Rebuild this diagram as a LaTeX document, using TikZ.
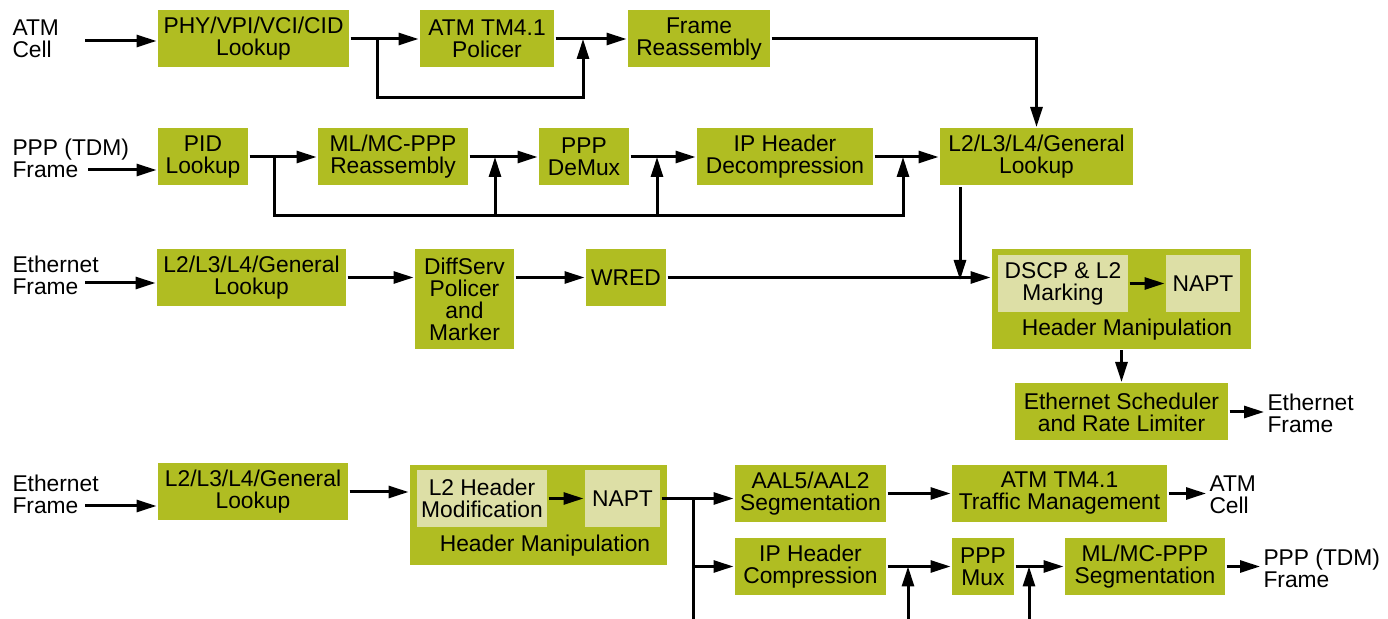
\documentclass[tikz,border=0pt]{standalone}
\usepackage{fontspec}
\setmainfont{Liberation Sans}
\usetikzlibrary{arrows.meta}
\definecolor{boxgreen}{RGB}{176,189,34}
\definecolor{boxlight}{RGB}{221,223,166}

\begin{document}
\begin{tikzpicture}[x=0.5pt,y=-0.5pt,line width=1.5pt,
  every node/.style={font=\fontsize{11.4}{11}\selectfont},
  blk/.style={fill=boxgreen,inner sep=0pt,align=center,minimum height=28.5pt},
  sub/.style={fill=boxlight,inner sep=0pt,align=center,minimum height=28.5pt},
  grp/.style={fill=boxgreen,inner sep=0pt,minimum height=50pt},
  lbl/.style={inner sep=1pt,align=left,anchor=west},
  arr/.style={-{Triangle[length=10pt,width=6pt]}}]
\useasboundingbox (0,0) rectangle (1388,619);

\node[lbl] (atmin) at (9,39) {ATM\\Cell};
\node[blk,minimum width=95.5pt] (phy) at (253.5,39) {PHY/VPI/VCI/CID\\Lookup};
\node[blk,minimum width=67pt] (pol) at (487,39) {ATM TM4.1\\Policer};
\node[blk,minimum width=71pt] (frm) at (699,39) {Frame\\Reassembly};
\coordinate (atma) at (85,41);
\coordinate (byp1) at (377,98);
\coordinate (byp2) at (583,98);
\draw[arr] (atma) -- (atma -| phy.west);
\draw[arr] (phy) -- (pol);
\draw[arr] (pol) -- (frm);
\draw[arr] (phy.east -| byp1) -- (byp1) -- (byp2) -- (byp2 |- pol.east);

\node[lbl] (pppin) at (9,158) {PPP (TDM)\\Frame};
\node[blk,minimum width=45pt] (pid) at (203,157) {PID\\Lookup};
\node[blk,minimum width=75pt] (mlr) at (393,157) {ML/MC-PPP\\Reassembly};
\node[blk,minimum width=45pt] (dmx) at (584,157) {PPP\\DeMux};
\node[blk,minimum width=88pt] (ipd) at (785,157) {IP Header\\Decompression};
\node[blk,minimum width=96.5pt] (lku) at (1036.5,157) {L2/L3/L4/General\\Lookup};
\coordinate (pppa) at (88,170);
\coordinate (byp3) at (274,216);
\coordinate (byp4) at (903,216);
\coordinate (tap1) at (495,216);
\coordinate (tap2) at (657,216);
\draw[arr] (pppa) -- (pppa -| pid.west);
\draw[arr] (pid) -- (mlr);
\draw[arr] (mlr) -- (dmx);
\draw[arr] (dmx) -- (ipd);
\draw[arr] (ipd) -- (lku);
\draw[arr] (pid.east -| byp3) -- (byp3) -- (byp4) -- (byp4 |- ipd.east);
\draw[arr] (tap1) -- (tap1 |- mlr.east);
\draw[arr] (tap2) -- (tap2 |- dmx.east);
\draw[arr] (frm) -| (lku);

\node[lbl] (ethin1) at (9,275) {Ethernet\\Frame};
\node[blk,minimum width=94.5pt] (el3) at (251.5,277.5) {L2/L3/L4/General\\Lookup};
\node[blk,minimum width=49.5pt,minimum height=50pt] (dsv) at (464.5,299) {DiffServ\\Policer\\and\\Marker};
\node[blk,minimum width=40pt] (wrd) at (626,277.5) {WRED};
\node[grp,minimum width=129.5pt] (hm1) at (1121.5,299) {};
\node[sub,minimum width=65pt] (dscp) at (1063,283.5) {DSCP \& L2\\Marking};
\node[sub,minimum width=37pt] (napt1) at (1203,283.5) {NAPT};
\node (hml1) at (1127,330) {Header Manipulation};
\node[blk,minimum width=106.5pt] (esch) at (1121.5,412) {Ethernet Scheduler\\and Rate Limiter};
\node[lbl] (ethout) at (1264,413.5) {Ethernet\\Frame};
\coordinate (etha1) at (85,283);
\coordinate (mrg) at (960,280);
\draw[arr] (etha1) -- (etha1 -| el3.west);
\draw[arr] (el3.east) -- (el3.east -| dsv.west);
\draw[arr] (wrd.west -| dsv.east) -- (wrd.west);
\draw[arr] (wrd.east) -- (wrd.east -| hm1.west);
\draw[arr] (lku.south -| mrg) -- (mrg);
\draw[arr] (dscp) -- (napt1);
\draw[arr] (hm1) -- (esch);
\draw[arr] (esch.east) -- (esch.east -| ethout.west);

\node[lbl] (ethin2) at (9,494) {Ethernet\\Frame};
\node[blk,minimum width=95pt] (el4) at (253,492) {L2/L3/L4/General\\Lookup};
\node[grp,minimum width=128.5pt] (hm2) at (538.5,515) {};
\node[sub,minimum width=65pt] (l2m) at (482,498.5) {L2 Header\\Modification};
\node[sub,minimum width=37.5pt] (napt2) at (622.5,498.5) {NAPT};
\node (hml2) at (545,546) {Header Manipulation};
\node[blk,minimum width=75.5pt] (aal) at (810.5,493.5) {AAL5/AAL2\\Segmentation};
\node[blk,minimum width=107.5pt] (atmtm) at (1059.5,493.5) {ATM TM4.1\\Traffic Management};
\node[lbl] (atmout) at (1206,494.5) {ATM\\Cell};
\node[blk,minimum width=75.5pt] (iphc) at (810.5,566.5) {IP Header\\Compression};
\node[blk,minimum width=31pt] (pmux) at (983,566.5) {PPP\\Mux};
\node[blk,minimum width=80pt] (mlseg) at (1145,566.5) {ML/MC-PPP\\Segmentation};
\node[lbl] (pppout) at (1260,568.5) {PPP (TDM)\\Frame};
\coordinate (etha2) at (85,506);
\coordinate (spl) at (693,619);
\coordinate (up1) at (908,619);
\coordinate (up2) at (1029,619);
\draw[arr] (etha2) -- (etha2 -| el4.west);
\draw[arr] (el4.east) -- (el4.east -| hm2.west);
\draw[arr] (l2m) -- (napt2);
\draw[arr] (napt2.east) -- (napt2.east -| aal.west);
\draw (napt2.east -| spl) -- (spl);
\draw[arr] (iphc.west -| spl) -- (iphc.west);
\draw[arr] (aal) -- (atmtm);
\draw[arr] (atmtm.east) -- (atmtm.east -| atmout.west);
\draw[arr] (iphc) -- (pmux);
\draw[arr] (pmux) -- (mlseg);
\draw[arr] (up1) -- (up1 |- iphc.east);
\draw[arr] (up2) -- (up2 |- pmux.east);
\draw[arr] (mlseg.east) -- (mlseg.east -| pppout.west);
\end{tikzpicture}
\end{document}
